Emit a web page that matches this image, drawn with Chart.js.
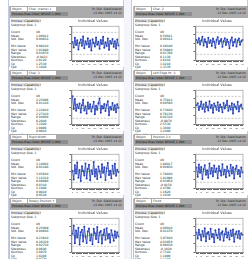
<!DOCTYPE html>
<html>
<head>
<meta charset="utf-8">
<script src="https://cdn.jsdelivr.net/npm/chart.js@4.4.1/dist/chart.umd.min.js"></script>
<style>
  html, body { margin: 0; padding: 0; background: #fff; }
  #page { position: relative; width: 249px; height: 259px; overflow: hidden; background: #fff; font-family: "DejaVu Sans", sans-serif; }
  .panel { position: absolute; width: 114px; height: 61px; background: #fff; border-left: 1px solid #b4bede; }
  .head { position: absolute; left: 0; top: 0; width: 114px; height: 12px; background: #ababab; }
  .sm { position: absolute; transform: scale(0.5); transform-origin: 0 0; font-size: 6px; line-height: 7px; white-space: pre; overflow: hidden; }
  .sep { position: absolute; background: #c3cbe6; }
  canvas { position: absolute; }
</style>
</head>
<body>
<div id="page"></div>
<script>
// panel names (header text)
var objects = ['Object', 'Object', 'Object', 'Object', 'Object', 'Object', 'Object', 'Object'];
var chars = ['Char. (name) 1', 'Char. 2', 'Char. 3', 'Left Edge Ht. 4', 'Rigid Width', 'Position 2 X', 'Rotary Position Y', 'Flood'];
var statLabels = ['Count', 'Mean', 'Std. Dev.', '', 'Min Value', 'Max Value', 'Range', 'Skewness', 'Kurtosis', 'Cp', 'Cpk', 'Out of Spec'];
var statValues = [
  ['40', '1.00012', '0.00834', '', '0.98210', '1.01880', '0.03670', '-0.0421', '2.8120', '1.2530', '1.1820', '0'],
  ['40', '0.50021', '0.00412', '', '0.49180', '0.50940', '0.01760', '0.1130', '2.6410', '1.4210', '1.3370', '0'],
  ['40', '2.25006', '0.01120', '', '2.22810', '2.27410', '0.04600', '0.2840', '3.1020', '1.0860', '0.9910', '1'],
  ['40', '0.75014', '0.00560', '', '0.73820', '0.76130', '0.02310', '-0.0870', '2.5530', '1.3040', '1.2480', '0'],
  ['40', '3.10002', '0.02180', '', '3.05620', '3.14310', '0.08690', '0.0310', '2.1940', '0.9810', '0.9520', '2'],
  ['40', '1.80017', '0.00930', '', '1.78040', '1.81990', '0.03950', '-0.0150', '2.4780', '1.1620', '1.1030', '0'],
  ['40', '0.25009', '0.00640', '', '0.23610', '0.26320', '0.02710', '0.0640', '2.0870', '1.0240', '0.9770', '1'],
  ['40', '4.00010', '0.01470', '', '3.97020', '4.03050', '0.06030', '-0.1020', '2.7310', '1.1890', '1.1210', '0']
];

// individuals chart values (deviation from nominal)
var sampleNo = ['1', '', '', '', '5', '', '', '', '', '10', '', '', '', '', '15', '', '', '', '', '20', '', '', '', '', '25', '', '', '', '', '30', '', '', '', '', '35', '', '', '', '', '40'];
var s1 = [0.4, -1.2, 1.6, -0.5, 0.9, -1.8, 0.2, 1.1, -0.7, 2.0, -1.4, 0.6, -0.3, 1.5, -1.1, 0.8, -2.1, 1.2, 0.1, -0.9, 1.7, -0.4, 0.5, -1.6, 1.0, -0.2, 1.9, -1.3, 0.3, -0.8, 1.4, -1.9, 0.7, -0.1, 1.3, -1.0, 0.6, -1.5, 1.1, -0.6];
var s2 = [1.0, 0.2, 1.5, -0.3, 0.8, 1.9, -0.6, 1.2, 0.4, -1.1, 1.6, 0.1, 0.9, -0.8, 1.4, 0.5, -1.3, 1.0, 1.8, -0.2, 0.7, 1.3, -1.0, 0.6, 1.5, -0.5, 1.1, 0.3, -1.4, 0.9, 1.7, -0.7, 0.4, 1.2, -0.9, 0.8, 1.4, -0.4, 0.6, 1.0];
var s3 = [3.2, -0.5, 2.4, -1.0, 0.8, -0.2, 1.1, -1.5, 0.6, 2.2, -0.9, 0.3, -1.8, 1.4, -0.4, 0.9, -1.2, 0.2, 1.6, -2.0, 0.5, -0.7, 1.2, 2.6, -1.6, 0.4, -0.3, 1.0, -1.1, 0.7, 1.8, -2.3, 0.1, -0.6, 1.3, -0.8, 0.6, -1.4, 0.9, -0.1];
var s4 = [0.6, 1.2, -0.8, 0.3, 1.7, -0.5, 0.9, -1.3, 1.4, 0.2, -0.9, 1.8, -0.2, 0.7, -1.6, 1.1, 0.4, -0.7, 1.5, -1.1, 0.8, 0.1, -1.4, 1.3, -0.3, 0.6, 1.9, -1.0, 0.5, -0.6, 1.2, -1.8, 0.9, 0.2, -0.5, 1.6, -1.2, 0.4, 0.8, -0.4];
var s5 = [0.2, -2.4, 1.8, -0.6, 2.6, -1.9, 0.4, -2.8, 1.5, 0.1, -1.2, 2.3, -2.1, 0.7, 1.9, -2.6, 0.3, -0.8, 2.7, -1.5, 0.6, -2.2, 1.4, 0.0, -1.7, 2.1, -0.4, 1.2, -2.5, 0.8, 2.4, -1.1, 0.2, -2.0, 1.6, -0.7, 2.2, -1.3, 0.5, -0.2];
var s6 = [1.1, -1.6, 2.0, -0.4, 1.3, -2.2, 0.6, 1.8, -1.0, 0.3, -1.9, 2.3, -0.7, 1.0, -1.4, 1.7, -0.2, 0.8, -2.0, 1.5, 0.2, -1.2, 2.1, -0.9, 0.5, -1.7, 1.4, 0.0, -1.3, 1.9, -0.6, 1.2, -2.1, 0.7, 1.6, -0.8, 0.4, -1.5, 1.1, -0.3];
var s7 = [0.5, 2.8, -2.3, 1.4, -0.6, 2.2, -2.7, 0.9, 1.6, -1.8, 2.5, -0.4, -2.2, 1.1, 2.0, -1.5, 0.3, -2.6, 1.9, 0.6, -1.1, 2.4, -2.0, 0.8, 1.3, -2.4, 0.2, 1.7, -1.3, 2.1, -0.9, 0.4, -2.1, 1.5, 0.0, -1.6, 1.2, -0.7, 0.9, -0.3];
var s8 = [0.8, -0.9, 1.6, 0.2, -1.4, 1.3, -0.3, 2.1, -1.7, 0.6, 1.0, -1.1, 1.9, -0.5, 0.4, -2.0, 1.5, 0.1, -0.8, 1.8, -1.3, 0.7, 1.2, -1.6, 0.3, 2.0, -0.6, 0.9, -1.2, 1.4, -0.2, 1.7, -1.9, 0.5, 1.1, -0.7, 1.3, -1.0, 0.6, 0.2];
var series = [s1, s2, s3, s4, s5, s6, s7, s8];
var centerLine = [0, 0.4, -0.3, 0, 0, 0, 0, 0.2];
var upperLimit = 3.2;
var lowerLimit = -3.2;

var colLeft = [9, 133];
var rowTop = [6, 70, 134, 198];

var frame = {
  id: 'frame',
  afterDraw: function (c) {
    var a = c.chartArea, g = c.ctx;
    g.save();
    g.strokeStyle = '#8a8a8a';
    g.lineWidth = 0.6;
    g.strokeRect(a.left, a.top, a.right - a.left, a.bottom - a.top);
    g.restore();
  }
};

function flat(v) {
  return sampleNo.map(function () { return v; });
}

// small text: rendered at 6px and scaled down by half
function sm(x, y, w, text, style) {
  return '<div class="sm" style="left:' + x + 'px;top:' + y + 'px;width:' + (w * 2) + 'px;' + (style || 'color:#222') + '">' + text + '</div>';
}

var page = document.getElementById('page');
var gut = document.createElement('div');
gut.style.cssText = 'position:absolute;left:124px;top:0;width:7px;height:259px;background:#f4f5fa';
page.appendChild(gut);
[[8, 1], [123, 1], [131, 1], [247, 1]].forEach(function (s) {
  var d = document.createElement('div');
  d.className = 'sep';
  d.style.left = s[0] + 'px'; d.style.top = '0px';
  d.style.width = s[1] + 'px'; d.style.height = '259px';
  page.appendChild(d);
});

for (var i = 0; i < 8; i++) {
  var p = document.createElement('div');
  p.className = 'panel';
  p.style.left = colLeft[i % 2] + 'px';
  p.style.top = rowTop[Math.floor(i / 2)] + 'px';
  var html = '<div class="head">' +
    sm(1, 1, 15, objects[i], 'background:#fff;color:#333;height:8px;padding-left:2px') +
    sm(18, 1, 27, chars[i], 'background:#fff;color:#333;height:8px;padding-left:2px') +
    sm(1, 6, 56, 'Process Bias Index NPUSE 1.000', 'background:#8e8e8e;color:#111;height:8px;padding-left:2px') +
    sm(76, 1, 36, 'Pr. Dip. Stabilization', 'color:#222;text-align:right') +
    sm(76, 5, 36, '12 Dec 2005 14:22', 'color:#222;text-align:right') +
    '</div>';
  html += sm(1, 13, 30, 'Process: Capability Study', 'background:#e6e6e6;color:#222');
  html += sm(1, 17, 30, 'Subgroup Size: 1');
  var lab = '', val = '';
  for (var k = 0; k < statLabels.length; k++) {
    lab += statLabels[k] + '\n';
    val += statValues[i][k] + '\n';
  }
  html += sm(1, 24, 24, lab);
  html += sm(26, 24, 20, val);
  p.innerHTML = html;
  var cv = document.createElement('canvas');
  cv.width = 58; cv.height = 48;
  cv.style.left = '55px'; cv.style.top = '12px';
  p.appendChild(cv);
  page.appendChild(p);

  new Chart(cv, {
    type: 'line',
    data: {
      labels: sampleNo,
      datasets: [
        { data: series[i], borderColor: '#3a52c6', backgroundColor: '#2c42b4', borderWidth: 1, pointRadius: 1, pointBorderWidth: 0, tension: 0 },
        { data: flat(centerLine[i]), borderColor: '#5cc45c', borderWidth: 0.8, pointRadius: 0 },
        { data: flat(upperLimit), borderColor: '#8a8a8a', borderWidth: 0.5, borderDash: [2, 1.5], pointRadius: 0 },
        { data: flat(lowerLimit), borderColor: '#8a8a8a', borderWidth: 0.5, borderDash: [2, 1.5], pointRadius: 0 }
      ]
    },
    options: {
      responsive: false,
      animation: false,
      devicePixelRatio: 1,
      layout: { padding: { left: 0, right: 2, top: 0, bottom: 0 } },
      plugins: {
        legend: { display: false },
        tooltip: { enabled: false },
        title: { display: true, text: 'Individual Values', color: '#444', font: { size: 3.5, weight: 'normal', family: 'DejaVu Sans' }, padding: { top: 1, bottom: 3 } }
      },
      scales: {
        x: {
          offset: true,
          grid: { drawOnChartArea: false, tickLength: 1.5, color: '#666' },
          border: { color: '#8a8a8a' },
          ticks: { autoSkip: false, maxRotation: 0, color: '#444', font: { size: 2.5 }, padding: 0.5 }
        },
        y: {
          min: -5, max: 5,
          grid: { drawOnChartArea: false, tickLength: 2.5, color: '#666' },
          border: { color: '#8a8a8a' },
          ticks: { stepSize: 2.5, display: true, color: 'rgba(0,0,0,0)', font: { size: 2 }, padding: 0.5 }
        }
      }
    },
    plugins: [frame]
  });
}
</script>
</body>
</html>
